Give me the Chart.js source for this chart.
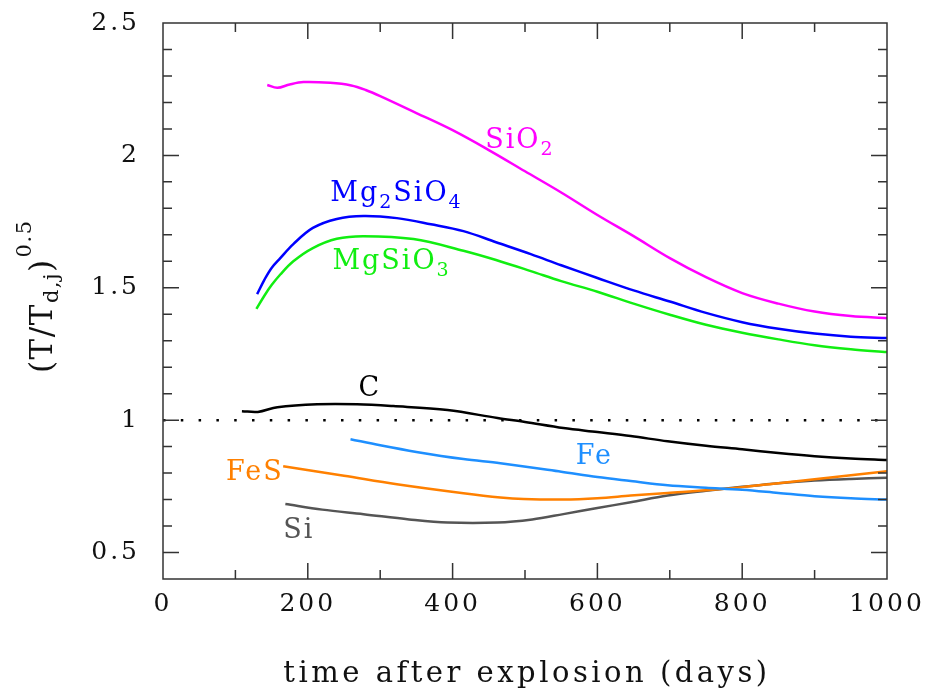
<!DOCTYPE html>
<html lang="en">
<head>
    <meta charset="UTF-8">
    <title>Dust temperature ratio</title>
    <style>
        html, body { margin: 0; padding: 0; background: #fff; }
        canvas { display: block; }
    </style>
</head>
<body>
    <canvas id="myChart" width="929" height="691"></canvas>

    <script src="https://cdn.jsdelivr.net/npm/chart.js@4/dist/chart.umd.min.js"></script>
    <script>
        // values: days after explosion and (T/Td,j)^0.5
        var sio2Days = [144, 158, 175, 194, 231, 260, 280, 300, 350, 400, 450, 500, 550, 600, 650, 700, 750, 800, 850, 900, 950, 1000];
        var sio2Vals = [2.266, 2.255, 2.268, 2.277, 2.274, 2.264, 2.247, 2.224, 2.16, 2.095, 2.02, 1.94, 1.86, 1.775, 1.695, 1.612, 1.54, 1.48, 1.44, 1.41, 1.393, 1.385];

        var mg2sio4Days = [130, 140, 150, 162, 180, 207, 240, 277, 323, 370, 415, 460, 508, 550, 600, 650, 700, 750, 800, 850, 900, 950, 1000];
        var mg2sio4Vals = [1.476, 1.53, 1.575, 1.612, 1.665, 1.726, 1.76, 1.771, 1.763, 1.74, 1.714, 1.672, 1.627, 1.585, 1.537, 1.49, 1.448, 1.405, 1.37, 1.345, 1.327, 1.315, 1.31];

        var mgsio3Days = [129, 140, 150, 162, 180, 207, 240, 277, 346, 415, 460, 508, 550, 600, 650, 700, 750, 800, 850, 900, 950, 1000];
        var mgsio3Vals = [1.42, 1.47, 1.51, 1.55, 1.6, 1.65, 1.685, 1.695, 1.684, 1.64, 1.605, 1.563, 1.525, 1.485, 1.44, 1.398, 1.36, 1.33, 1.305, 1.283, 1.268, 1.257];

        var cDays = [109, 131, 158, 213, 268, 318, 393, 462, 500, 553, 600, 646, 697, 750, 800, 850, 900, 950, 1000];
        var cVals = [1.034, 1.031, 1.049, 1.06, 1.06, 1.053, 1.038, 1.008, 0.993, 0.97, 0.955, 0.94, 0.92, 0.903, 0.89, 0.876, 0.864, 0.855, 0.849];

        var feDays = [259, 300, 350, 415, 466, 550, 600, 646, 697, 750, 800, 850, 900, 950, 1000];
        var feVals = [0.928, 0.905, 0.88, 0.853, 0.837, 0.805, 0.785, 0.77, 0.754, 0.745, 0.737, 0.725, 0.713, 0.705, 0.7];

        var fesDays = [166, 250, 323, 415, 466, 498, 553, 600, 646, 697, 750, 800, 850, 900, 950, 1000];
        var fesVals = [0.826, 0.79, 0.758, 0.724, 0.708, 0.702, 0.7, 0.705, 0.715, 0.725, 0.735, 0.747, 0.762, 0.777, 0.792, 0.807];

        var siDays = [169, 220, 277, 340, 393, 462, 510, 553, 600, 646, 697, 750, 800, 850, 900, 950, 1000];
        var siVals = [0.683, 0.662, 0.645, 0.625, 0.613, 0.613, 0.625, 0.645, 0.668, 0.69, 0.715, 0.733, 0.748, 0.762, 0.772, 0.778, 0.782];

        var xTicks = [0, 200, 400, 600, 800, 1000];
        var yTicks = [0.5, 1, 1.5, 2, 2.5];

        // curve names: [main text, subscript] pairs, and where they sit (day, value of baseline)
        var curveNames = [
            [['SiO', '2']],
            [['Mg', '2'], ['SiO', '4']],
            [['MgSiO', '3']],
            [['C', '']],
            [['Fe', '']],
            [['FeS', '']],
            [['Si', '']]
        ];
        var nameDays = [445, 231, 234, 270, 570, 87, 166];
        var nameVals = [2.028, 1.828, 1.571, 1.091, 0.834, 0.773, 0.554];
        var colors = ['#ff00ff', '#0000ff', '#11ee11', '#000000', '#1e8fff', '#ff8000', '#555555'];

        function pts(days, vals) {
            return days.map(function(d, i) { return {x: d, y: vals[i]}; });
        }

        var series = [
            pts(sio2Days, sio2Vals), pts(mg2sio4Days, mg2sio4Vals), pts(mgsio3Days, mgsio3Vals),
            pts(cDays, cVals), pts(feDays, feVals), pts(fesDays, fesVals), pts(siDays, siVals)
        ];

        var datasets = series.map(function(s, i) {
            return {
                data: s,
                borderColor: colors[i],
                borderWidth: 2.5,
                pointRadius: 0,
                tension: 0.35,
                fill: false
            };
        });
        // dotted reference line at 1
        datasets.push({
            data: [{x: 0, y: 1}, {x: 1000, y: 1}],
            borderColor: '#000',
            borderWidth: 2.5,
            borderDash: [2.5, 15.3],
            pointRadius: 0,
            fill: false
        });

        var SERIF = '"DejaVu Serif", serif';

        function drawParts(ctx, parts, x, y, size, subSize, subDrop) {
            parts.forEach(function(p) {
                ctx.font = size + 'px ' + SERIF;
                ctx.fillText(p[0], x, y);
                x += ctx.measureText(p[0]).width;
                if (p[1]) {
                    ctx.font = subSize + 'px ' + SERIF;
                    ctx.fillText(p[1], x, y + subDrop);
                    x += ctx.measureText(p[1]).width;
                }
            });
            return x;
        }

        var decor = {
            id: 'decor',
            beforeDraw: function(chart) {
                chart.ctx.letterSpacing = '3px';
            },
            afterDraw: function(chart) {
                var ctx = chart.ctx, a = chart.chartArea;
                var xs = chart.scales.x, ys = chart.scales.y;
                ctx.save();

                // frame with inward ticks on all four sides
                ctx.strokeStyle = '#333';
                ctx.lineWidth = 1.5;
                ctx.strokeRect(a.left, a.top, a.right - a.left, a.bottom - a.top);
                ctx.beginPath();
                for (var v = 100; v < 1000; v += 100) {
                    var px = xs.getPixelForValue(v);
                    var len = v % 200 === 0 ? 16 : 9;
                    ctx.moveTo(px, a.bottom); ctx.lineTo(px, a.bottom - len);
                    ctx.moveTo(px, a.top); ctx.lineTo(px, a.top + len);
                }
                for (var i = 5; i < 25; i++) {
                    var py = ys.getPixelForValue(i / 10);
                    var l2 = i % 5 === 0 ? 16 : 9;
                    ctx.moveTo(a.left, py); ctx.lineTo(a.left + l2, py);
                    ctx.moveTo(a.right, py); ctx.lineTo(a.right - l2, py);
                }
                ctx.stroke();

                // curve names
                ctx.textAlign = 'left';
                ctx.textBaseline = 'alphabetic';
                ctx.letterSpacing = '2px';
                curveNames.forEach(function(parts, k) {
                    ctx.fillStyle = colors[k];
                    drawParts(ctx, parts, xs.getPixelForValue(nameDays[k]), ys.getPixelForValue(nameVals[k]), 27, 19, 7);
                });

                // x title
                ctx.fillStyle = '#111';
                ctx.letterSpacing = '3.5px';
                ctx.font = '29px ' + SERIF;
                ctx.textAlign = 'center';
                ctx.fillText('time after explosion (days)', (a.left + a.right) / 2 + 2, 682);

                // y title, rotated
                ctx.textAlign = 'left';
                ctx.letterSpacing = '1.5px';
                ctx.translate(52, 373);
                ctx.rotate(-Math.PI / 2);
                var x = drawParts(ctx, [['(T/T', 'd,j']], 0, 0, 31, 21, 6);
                ctx.font = '31px ' + SERIF;
                ctx.fillText(')', x, 0);
                x += ctx.measureText(')').width;
                ctx.font = '21px ' + SERIF;
                ctx.fillText('0.5', x + 1, -21);

                ctx.restore();
            }
        };

        function createChart() {
            var ctx = document.getElementById('myChart').getContext('2d');
            new Chart(ctx, {
                type: 'line',
                data: { datasets: datasets },
                options: {
                    responsive: false,
                    animation: false,
                    devicePixelRatio: 1,
                    layout: { padding: { top: 23, right: 42, left: 0, bottom: 0 } },
                    plugins: { legend: { display: false }, tooltip: { enabled: false } },
                    scales: {
                        x: {
                            type: 'linear',
                            min: 0,
                            max: 1000,
                            afterBuildTicks: function(s) { s.ticks = xTicks.map(function(v) { return {value: v}; }); },
                            afterFit: function(s) {
                                s.height = 112;
                                s.paddingLeft = 0; s.paddingRight = 0;
                            },
                            grid: { display: false, drawTicks: false },
                            border: { display: false },
                            ticks: {
                                padding: 10,
                                color: '#111',
                                maxRotation: 0,
                                font: { family: SERIF, size: 25 },
                                callback: function(v) { return String(v); }
                            }
                        },
                        y: {
                            type: 'linear',
                            min: 0.4,
                            max: 2.5,
                            afterBuildTicks: function(s) { s.ticks = yTicks.map(function(v) { return {value: v}; }); },
                            afterFit: function(s) {
                                s.width = 163;
                                s.paddingTop = 0; s.paddingBottom = 0;
                            },
                            grid: { display: false, drawTicks: false },
                            border: { display: false },
                            ticks: {
                                padding: 23,
                                color: '#111',
                                font: { family: SERIF, size: 25 },
                                callback: function(v) { return String(v); }
                            }
                        }
                    }
                },
                plugins: [decor]
            });
        }

        window.onload = function() {
            createChart();
        };
    </script>
</body>
</html>
